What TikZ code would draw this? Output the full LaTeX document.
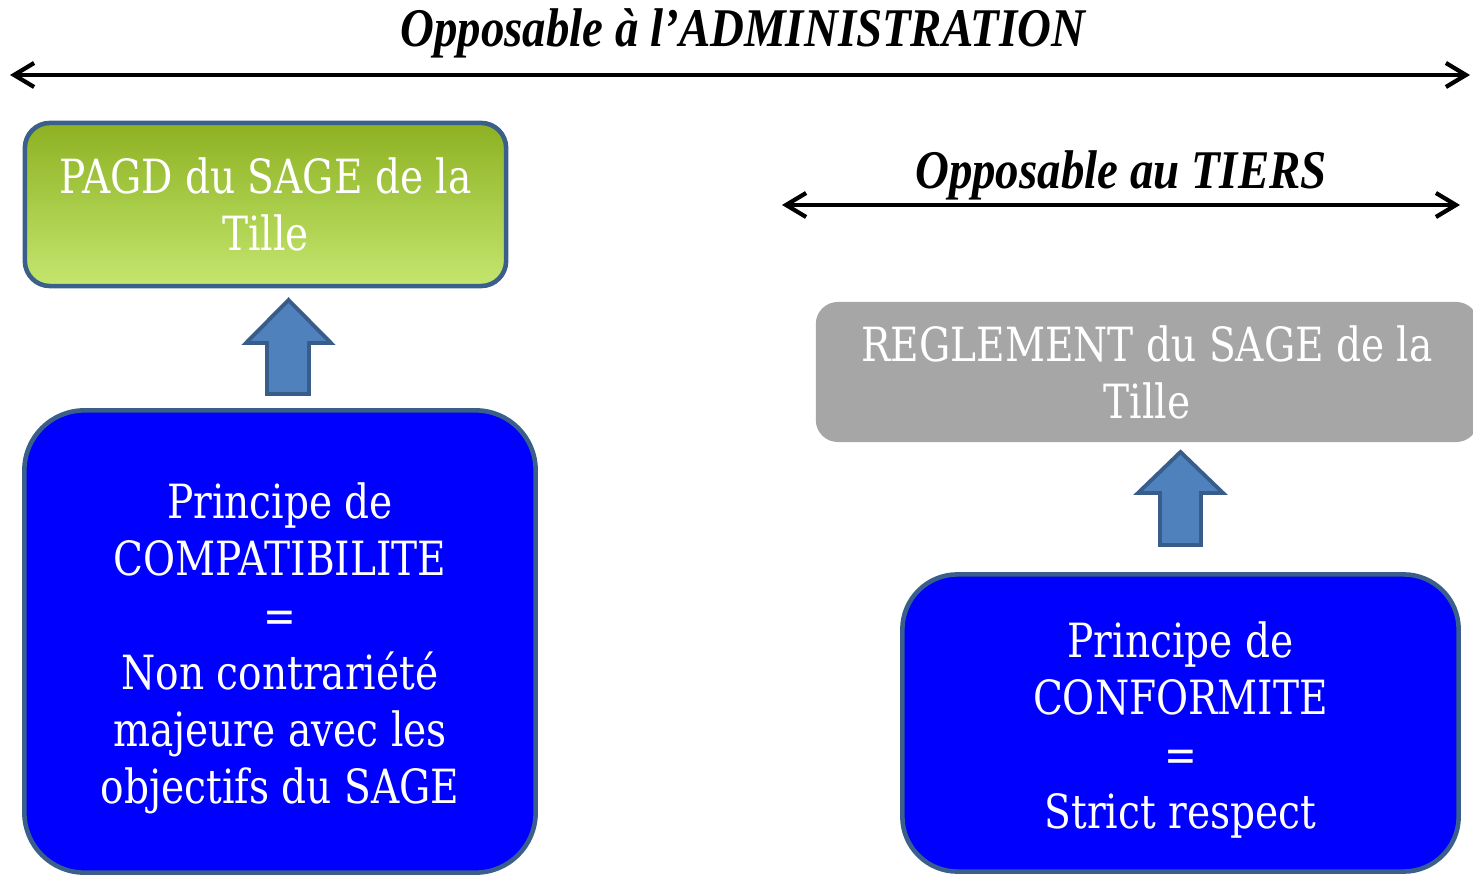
\documentclass[tikz,border=0pt]{standalone}
\usepackage{fontspec}
\setmainfont{DejaVu Serif}[FakeStretch=0.83]
\newfontfamily\titlefont{Liberation Serif}[FakeStretch=0.86]
\usetikzlibrary{arrows.meta}
\definecolor{boxedge}{HTML}{3A5F8B}
\definecolor{pagdtop}{HTML}{8DB122}
\definecolor{pagdbot}{HTML}{C4E66F}
\definecolor{reglgrey}{HTML}{A6A6A6}
\definecolor{arrowfill}{HTML}{4F81BD}
\definecolor{arrowedge}{HTML}{385D8A}
\newcommand*{\padtop}{\rule{0pt}{14pt}}

\tikzset{
  boxtext/.style={align=center, text=white, inner sep=0pt, font=\fontsize{13.4}{16.2}\selectfont},
  bluebox/.style={boxtext, fill=blue, draw=boxedge, line width=1.3pt},
  titletext/.style={font=\titlefont\bfseries\itshape\fontsize{15.5}{18}\selectfont},
  scopeline/.style={{Straight Barb[length=2mm,width=2.4mm]}-{Straight Barb[length=2mm,width=2.4mm]}, line width=1.2pt},
  blockarrow/.style={fill=arrowfill, draw=arrowedge, line width=1.1pt, line join=miter}
}

\begin{document}
\begin{tikzpicture}[x=0.01cm,y=-0.01cm]
  \useasboundingbox (0,0) rectangle (1473,877);

  \coordinate (adminL) at (10,75);
  \coordinate (adminR) at (1470,75);
  \draw[scopeline] (adminL) -- (adminR);
  \node[titletext] (admin) at (743,33) {Opposable à l’ADMINISTRATION};

  \coordinate (tiersL) at (782,205);
  \coordinate (tiersR) at (1460,205);
  \draw[scopeline] (tiersL) -- (tiersR);
  \node[titletext] (tiers) at (1121,175) {Opposable au TIERS};

  \node[boxtext, shade, top color=pagdtop, bottom color=pagdbot, draw=boxedge, line width=1.3pt,
        rounded corners=0.25cm, minimum width=4.81cm, minimum height=1.63cm] (pagd) at (265.5,204.5)
        {PAGD du SAGE de la\\Tille};

  \node[boxtext, fill=reglgrey, rounded corners=0.22cm, minimum width=6.62cm, minimum height=1.4cm]
        (reglement) at (1147,372) {REGLEMENT du SAGE de la\\Tille};

  \node[bluebox, rounded corners=0.6cm, minimum width=5.11cm, minimum height=4.62cm] (compat) at (280,641.5)
        {\padtop Principe de\\COMPATIBILITE\\=\\Non contrariété\\majeure avec les\\objectifs du SAGE};

  \node[bluebox, rounded corners=0.55cm, minimum width=5.56cm, minimum height=2.97cm] (conform) at (1180.5,723)
        {\padtop Principe de\\CONFORMITE\\=\\Strict respect};

  \draw[blockarrow] (288.5,300) -- (331,343) -- (309,343) -- (309,394) -- (267,394) -- (267,343) -- (246,343) -- cycle;
  \draw[blockarrow] (1180.5,452) -- (1223,493) -- (1201,493) -- (1201,545) -- (1160,545) -- (1160,493) -- (1138,493) -- cycle;
\end{tikzpicture}
\end{document}
